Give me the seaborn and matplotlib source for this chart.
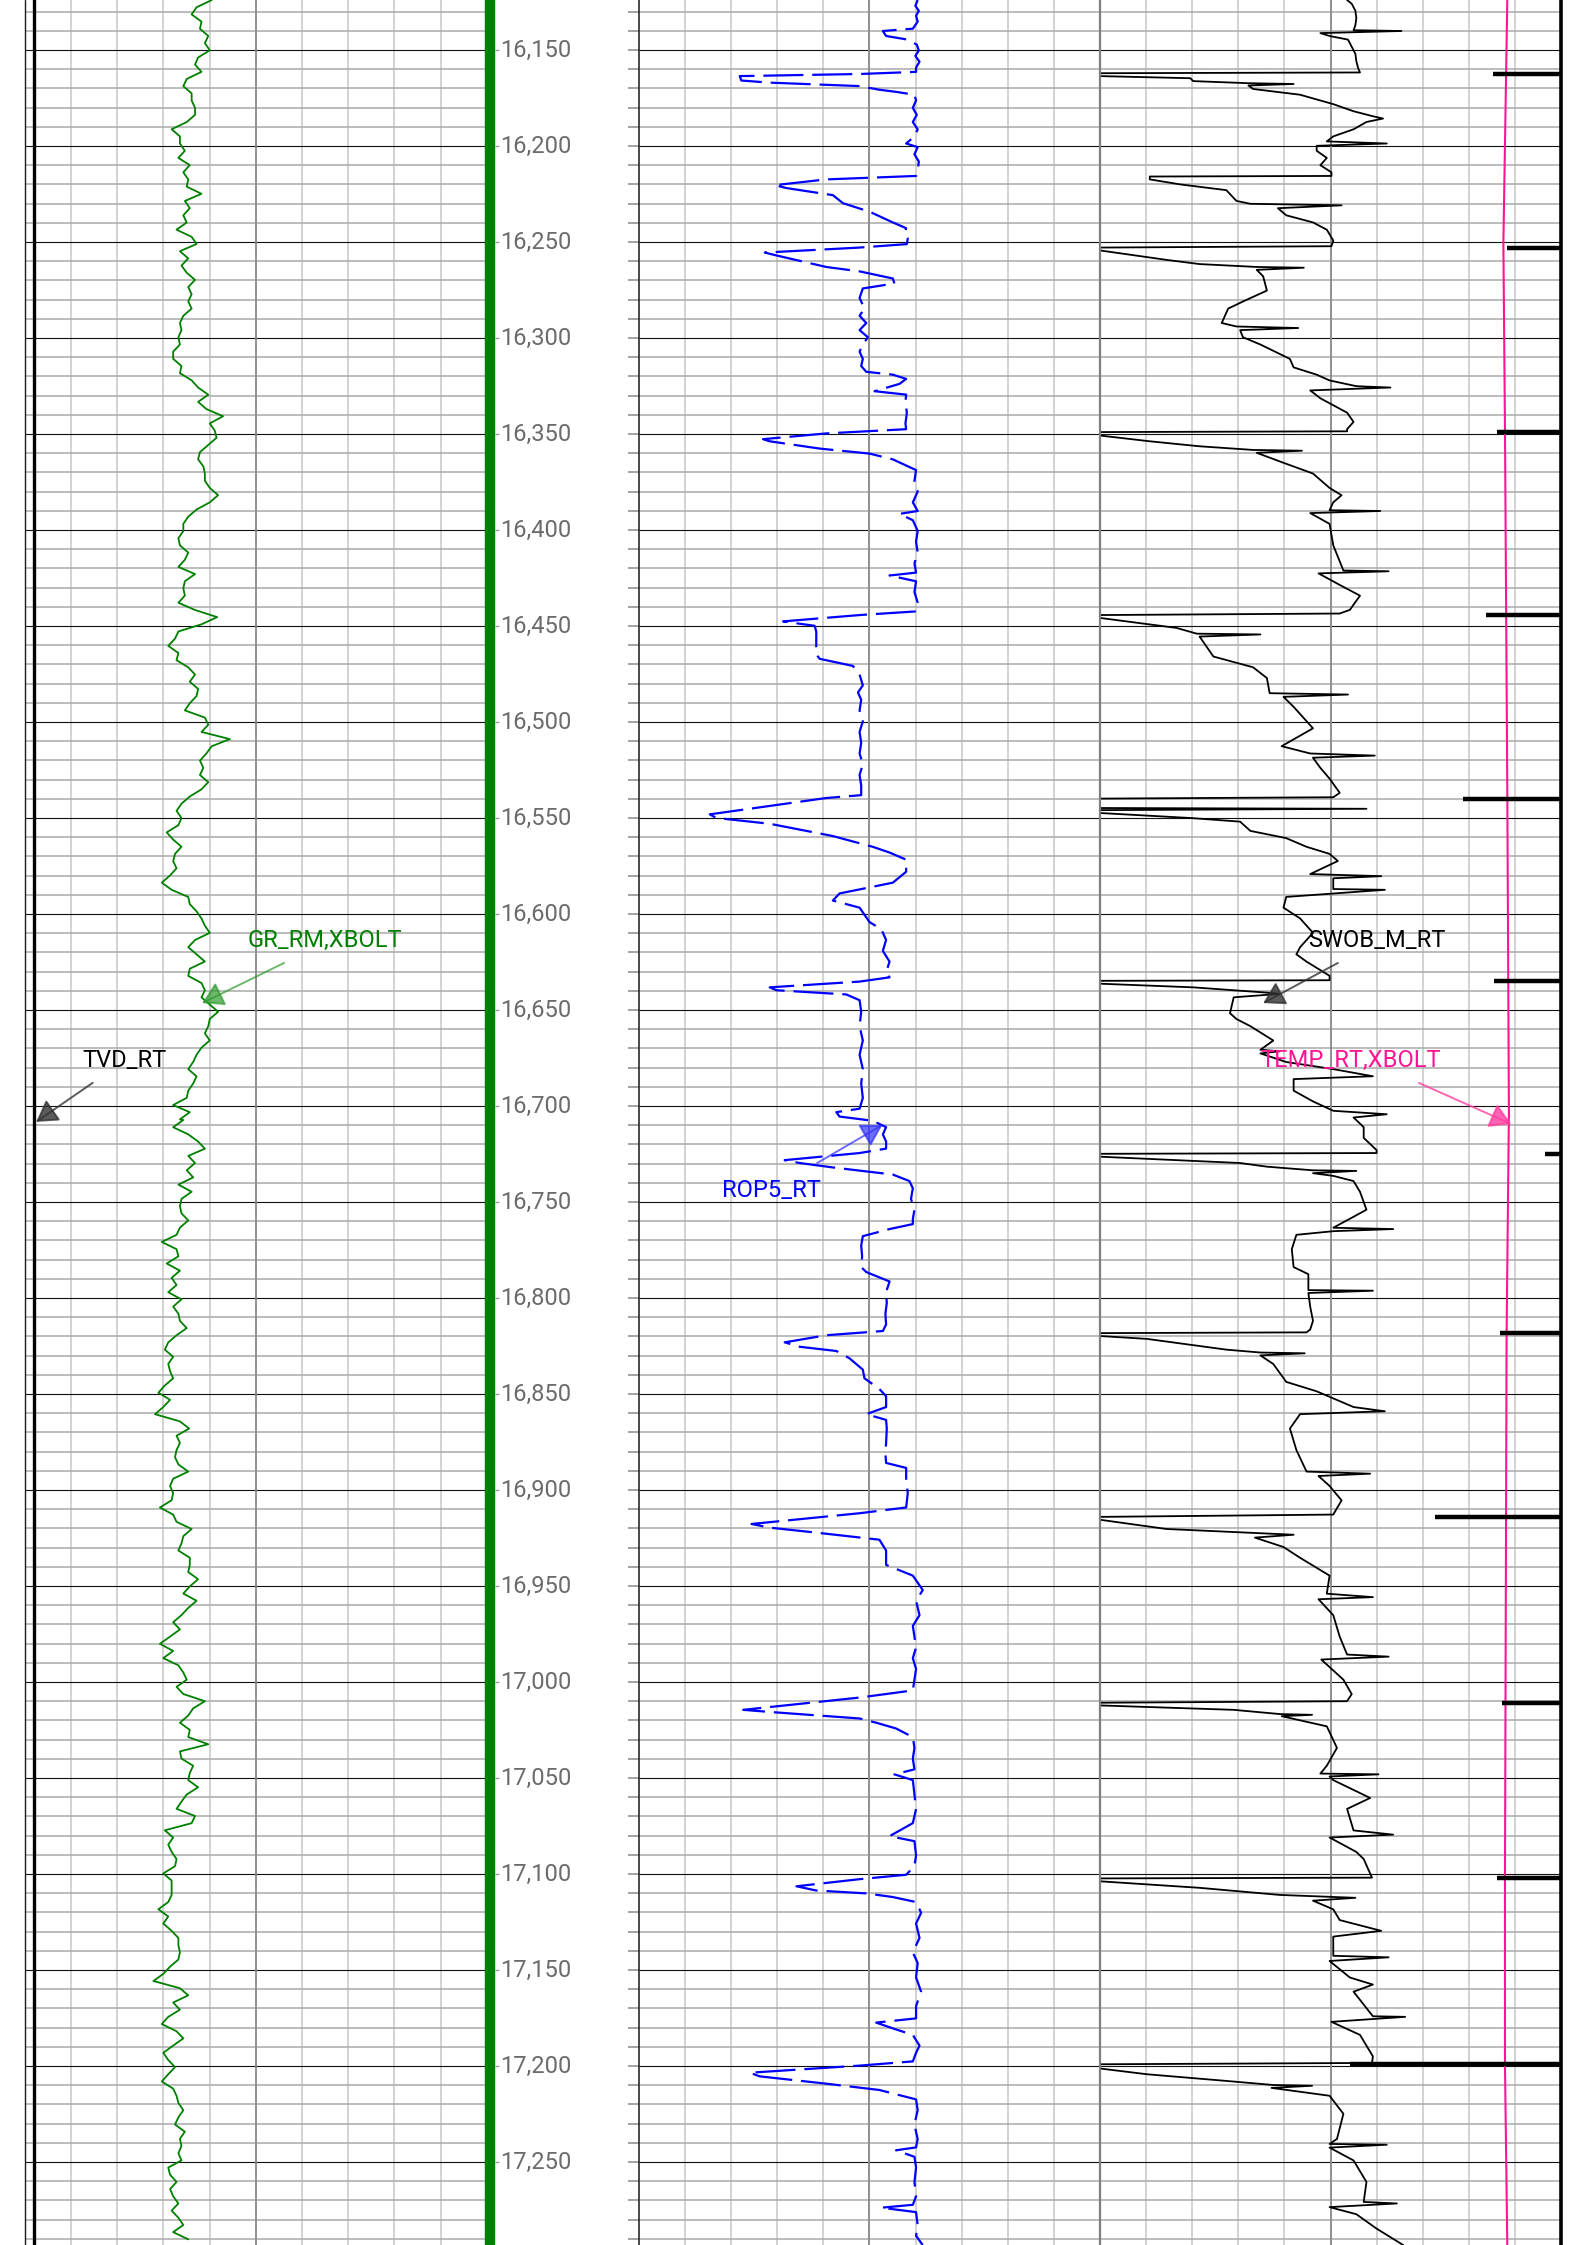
# well log section: GR / depth / ROP / SWOB+TEMP tracks
import numpy as np
import matplotlib.pyplot as plt
import seaborn as sns

sns.set_style("white")
plt.rcParams['font.family'] = ['Roboto', 'DejaVu Sans']

TOP_MD, BASE_MD = 16123.96, 17293.23
depth_labels = list(range(16150, 17300, 50))
minor_depths = [d for d in range(16130, 17300, 10) if d % 50]

# gamma ray (API), read every ~3.74 ft
gr_upper = [
    60.7, 55.8, 54.2, 57.4, 56.9, 59.6, 58.5, 60.1, 56.3, 55.3,
    57.4, 52.6, 51.5, 54.2, 54.2, 55.3, 55.3, 52.6, 47.7, 50.4,
    50.4, 52.0, 49.9, 53.6, 51.5, 53.1, 52.6, 57.4, 52.0, 53.6,
    51.5, 52.6, 49.3, 54.2, 55.8, 50.4, 53.1, 50.9, 52.6, 55.3,
    53.1, 54.2, 53.1, 54.2, 51.5, 50.4, 50.9, 49.9, 50.4, 48.2,
    48.2, 50.9, 50.4, 54.2, 56.3, 59.6, 56.3, 59.0, 64.4, 60.1,
    61.7, 62.3, 59.6, 56.9, 56.3, 58.0, 58.5, 58.5, 60.1, 62.8,
    60.1, 55.8, 53.1, 51.5, 51.5, 49.9, 50.4, 53.1, 52.0, 49.9,
    55.3, 52.0, 51.5, 52.0, 49.9, 55.3, 62.5, 57.4, 49.9, 48.8,
    46.6, 49.9, 49.3, 53.1, 55.3, 53.6, 56.3, 55.8, 53.6, 52.0,
    58.5, 59.6, 57.4, 66.6, 60.7, 59.0, 56.9, 58.0, 56.9, 59.6,
    57.4, 53.6, 50.9, 49.3, 50.9, 49.9, 46.1, 48.2, 50.9, 48.8,
    48.2, 49.3, 47.2, 44.5, 47.7, 53.1, 53.6, 55.8, 57.4, 58.5,
    60.1, 55.3, 53.1, 55.8, 58.5, 53.6, 53.1, 57.4, 58.5, 57.4,
    60.1, 62.8, 60.1, 59.6, 58.5, 60.1, 57.4, 55.8, 54.7, 53.1,
    55.8, 54.7, 53.1, 52.6, 48.2, 53.6, 50.4]
gr_lower = [
    51.5, 48.2, 53.1, 56.3, 58.5, 53.1, 55.3, 52.6, 54.7, 49.9,
    54.2, 50.9, 50.4, 50.9, 53.1, 50.4, 49.3, 44.5, 49.3, 49.9,
    46.1, 50.4, 47.7, 49.3, 46.6, 50.9, 48.2, 49.9, 50.4, 52.6,
    49.3, 46.6, 45.5, 48.2, 46.6, 47.2, 48.2, 45.5, 43.4, 47.2,
    45.0, 42.3, 50.4, 53.4, 49.3, 50.4, 49.3, 48.8, 49.9, 53.1,
    48.2, 47.2, 48.2, 47.7, 43.9, 48.2, 49.3, 54.2, 51.5, 50.9,
    49.9, 53.6, 53.6, 53.1, 56.3, 53.6, 51.5, 55.8, 53.1, 50.9,
    48.2, 50.4, 47.2, 43.9, 48.2, 45.0, 49.9, 51.5, 52.6, 49.3,
    51.5, 58.5, 54.7, 53.1, 50.4, 53.6, 53.1, 59.6, 50.4, 50.9,
    54.7, 53.6, 53.1, 56.3, 52.6, 50.9, 49.3, 55.3, 54.2, 45.5,
    48.2, 46.6, 47.7, 49.3, 48.8, 45.0, 47.7, 47.7, 47.7, 46.6,
    43.4, 46.6, 45.0, 47.7, 49.9, 49.9, 50.4, 49.9, 47.2, 45.0,
    41.8, 50.4, 53.1, 48.2, 50.4, 46.6, 44.5, 49.3, 51.5, 48.2,
    45.0, 46.6, 48.8, 46.6, 44.5, 48.2, 49.3, 49.9, 51.5, 49.9,
    48.8, 52.0, 50.4, 50.9, 49.9, 50.9, 46.6, 47.2, 49.3, 47.2,
    48.2, 49.9, 47.7, 49.9, 51.5, 48.2, 53.1]
gr_depth = np.concatenate([16124.0 + 3.737 * np.arange(len(gr_upper)),
                           16707.3 + 3.737 * np.arange(len(gr_lower))])
gr_value = gr_upper + gr_lower

tvd_depth = [16124.0, 17293.2]
tvd_value = [9010.1, 9010.1]

# ROP5_RT (ft/hr) as (depth, value)
rop_points = [
    (16124.0, 120.9), (16127.0, 119.9), (16129.6, 121.4), (16132.2, 120.2), (16135.2, 120.9),
    (16138.9, 118.8), (16140.1, 105.8), (16142.7, 107.2), (16144.6, 116.6), (16147.2, 120.5),
    (16150.2, 121.4), (16153.1, 119.9), (16156.1, 121.7), (16159.1, 120.2), (16161.4, 120.2),
    (16162.5, 95.7), (16163.6, 43.7), (16165.9, 44.4), (16167.0, 56.7), (16168.8, 95.7),
    (16170.7, 104.3), (16171.8, 111.5), (16173.3, 119.5), (16176.3, 120.2), (16180.1, 118.8),
    (16183.8, 120.5), (16187.5, 118.8), (16191.3, 120.9), (16195.0, 119.5), (16198.7, 115.9),
    (16200.6, 120.9), (16204.3, 119.5), (16208.1, 121.4), (16212.9, 120.9), (16215.6, 120.2),
    (16217.4, 81.2), (16220.4, 58.9), (16221.9, 63.9), (16225.6, 84.1), (16229.8, 88.5),
    (16234.2, 100.0), (16239.8, 110.1), (16242.8, 115.9), (16245.5, 115.2), (16248.1, 116.6),
    (16251.1, 116.2), (16252.9, 95.7), (16255.5, 54.6), (16257.0, 59.6), (16263.0, 81.2),
    (16265.3, 95.7), (16269.0, 110.1), (16271.6, 110.8), (16274.2, 97.1), (16279.1, 95.7),
    (16284.7, 97.8), (16288.4, 95.7), (16292.2, 98.6), (16295.9, 95.7), (16299.6, 99.3),
    (16303.4, 97.1), (16307.1, 95.7), (16310.9, 97.1), (16314.6, 96.4), (16317.6, 98.6),
    (16319.1, 110.1), (16321.3, 115.9), (16323.9, 113.0), (16327.7, 102.2), (16329.5, 115.9),
    (16333.3, 115.6), (16338.9, 116.2), (16344.5, 115.6), (16347.5, 115.9), (16349.7, 81.2),
    (16352.7, 53.8), (16353.8, 56.7), (16357.6, 78.4), (16360.2, 100.0), (16363.2, 110.1),
    (16368.8, 120.2), (16374.4, 119.5), (16380.0, 120.9), (16385.6, 118.8), (16390.1, 120.9),
    (16391.6, 113.0), (16394.9, 118.8), (16400.5, 120.9), (16406.1, 120.2), (16411.7, 120.9),
    (16417.4, 119.5), (16422.2, 120.2), (16423.7, 108.7), (16426.7, 120.2), (16432.3, 119.5),
    (16437.9, 120.9), (16442.4, 120.2), (16444.3, 95.7), (16447.6, 62.5), (16449.9, 76.2),
    (16452.9, 76.9), (16464.8, 76.9), (16467.1, 78.4), (16470.8, 92.8), (16475.3, 95.7),
    (16480.9, 97.1), (16484.6, 95.0), (16488.4, 96.4), (16494.0, 95.7), (16499.6, 97.1),
    (16505.2, 95.7), (16510.8, 96.4), (16516.4, 95.7), (16522.0, 97.1), (16527.6, 95.7),
    (16533.2, 96.4), (16538.1, 96.4), (16539.6, 81.2), (16548.1, 30.7), (16550.0, 33.6),
    (16553.0, 56.7), (16559.4, 84.1), (16565.0, 101.4), (16568.0, 108.7), (16571.7, 115.9),
    (16578.0, 115.9), (16583.7, 110.1), (16589.3, 87.0), (16593.0, 84.1), (16596.7, 95.7),
    (16604.2, 100.0), (16607.9, 105.1), (16613.5, 107.2), (16619.2, 105.8), (16624.8, 108.7),
    (16630.4, 107.2), (16633.0, 108.7), (16635.2, 95.7), (16638.2, 56.7), (16639.7, 59.6),
    (16641.9, 89.9), (16644.9, 95.7), (16650.9, 96.4), (16658.4, 95.7), (16665.9, 97.1),
    (16673.3, 95.7), (16680.8, 97.1), (16688.3, 96.4), (16695.8, 97.1), (16701.4, 95.7),
    (16703.2, 85.6), (16705.5, 87.0), (16707.7, 101.4), (16711.0, 107.2), (16714.8, 105.8),
    (16718.5, 107.2), (16722.2, 107.2), (16724.5, 95.7), (16728.2, 63.2), (16729.7, 69.7),
    (16732.0, 84.1), (16735.7, 110.1), (16739.1, 117.3), (16742.8, 118.8), (16748.4, 118.0),
    (16754.0, 119.5), (16758.9, 118.8), (16761.5, 118.8), (16764.1, 108.7), (16767.8, 97.1),
    (16772.7, 96.4), (16778.3, 96.8), (16783.9, 96.4), (16786.5, 98.6), (16791.4, 108.7),
    (16797.0, 107.2), (16802.6, 107.5), (16808.2, 106.9), (16813.8, 107.2), (16817.2, 105.8),
    (16819.4, 81.2), (16823.1, 63.2), (16825.4, 69.7), (16827.6, 85.6), (16831.4, 91.3),
    (16837.3, 97.1), (16841.8, 97.8), (16847.4, 104.3), (16851.2, 107.2), (16856.8, 107.2),
    (16860.5, 98.6), (16863.5, 107.2), (16868.0, 107.5), (16875.5, 107.2), (16881.1, 106.9),
    (16885.9, 107.2), (16888.5, 115.9), (16894.2, 115.9), (16901.6, 116.6), (16909.1, 115.9),
    (16912.1, 95.7), (16917.7, 48.8), (16919.6, 56.7), (16922.2, 76.9), (16925.9, 104.3),
    (16931.5, 107.2), (16939.0, 107.2), (16944.6, 118.8), (16952.1, 123.1), (16957.7, 120.2),
    (16965.2, 121.7), (16970.8, 118.8), (16976.4, 119.5), (16982.0, 120.2), (16987.6, 118.8),
    (16993.2, 120.2), (16998.8, 119.5), (17004.4, 118.8), (17008.1, 95.7), (17014.5, 45.2),
    (17015.6, 56.7), (17019.0, 95.7), (17021.2, 102.9), (17024.2, 111.5), (17028.7, 118.8),
    (17034.3, 119.5), (17039.9, 118.8), (17045.5, 119.5), (17048.1, 110.8), (17051.1, 118.8),
    (17058.6, 119.5), (17066.1, 120.2), (17073.5, 118.8), (17080.3, 108.7), (17082.9, 119.5),
    (17090.3, 120.2), (17095.9, 119.5), (17100.4, 115.9), (17102.7, 95.7), (17106.4, 68.3),
    (17108.6, 76.9), (17110.1, 98.6), (17112.0, 110.1), (17114.6, 120.2), (17120.2, 122.4),
    (17125.8, 120.2), (17133.3, 121.7), (17140.8, 118.8), (17146.4, 120.9), (17153.9, 120.2),
    (17161.3, 122.4), (17168.8, 120.2), (17175.2, 120.2), (17177.4, 102.9), (17180.4, 110.1),
    (17183.8, 118.8), (17189.4, 121.7), (17193.1, 120.2), (17197.6, 118.8), (17199.8, 95.7),
    (17203.5, 48.1), (17205.4, 52.4), (17209.2, 81.2), (17212.5, 104.3), (17217.4, 120.2),
    (17223.0, 120.9), (17230.5, 119.5), (17238.0, 120.9), (17242.4, 120.2), (17243.9, 111.5),
    (17247.3, 119.5), (17252.9, 120.2), (17260.4, 119.5), (17267.8, 120.2), (17272.3, 118.8),
    (17273.8, 105.1), (17276.1, 120.2), (17282.8, 120.9), (17288.4, 120.2), (17293.3, 123.1)]

# SWOB_M_RT (klbs) as (depth, value)
swob_points = [
    (16124.0, 26.8), (16125.9, 27.3), (16129.6, 27.7), (16133.3, 27.8), (16137.1, 27.7),
    (16139.7, 27.5), (16140.1, 32.7), (16141.2, 23.9), (16142.7, 24.9), (16144.6, 26.9),
    (16148.3, 27.3), (16152.0, 27.7), (16155.8, 27.8), (16159.5, 28.0), (16161.7, 28.2),
    (16162.1, 0.0), (16163.6, 0.0), (16164.7, 9.8), (16166.2, 10.1), (16167.3, 16.1),
    (16167.7, 21.0), (16168.5, 16.1), (16170.3, 16.6), (16173.3, 21.7), (16178.2, 25.3),
    (16181.9, 27.5), (16184.5, 29.6), (16185.7, 30.7), (16187.5, 28.9), (16191.3, 27.5),
    (16195.0, 25.3), (16197.6, 24.6), (16198.7, 31.1), (16199.9, 23.5), (16202.5, 23.5),
    (16206.2, 24.6), (16210.0, 23.9), (16213.7, 25.1), (16215.6, 25.1), (16215.9, 5.4),
    (16217.4, 5.4), (16220.0, 8.7), (16223.0, 13.7), (16228.6, 14.8), (16230.1, 16.3),
    (16230.9, 26.2), (16232.4, 19.3), (16236.1, 20.2), (16239.8, 23.1), (16243.6, 24.6),
    (16249.2, 25.3), (16252.2, 25.1), (16252.9, 0.0), (16254.4, 0.0), (16259.3, 7.2),
    (16261.5, 10.8), (16263.0, 17.0), (16263.4, 22.1), (16264.5, 17.0), (16267.9, 17.7),
    (16275.3, 18.1), (16281.0, 15.5), (16284.7, 13.9), (16292.2, 13.2), (16294.0, 14.8),
    (16294.8, 21.5), (16295.9, 15.2), (16299.6, 15.5), (16303.4, 17.4), (16310.9, 20.6),
    (16315.3, 21.0), (16319.1, 23.5), (16322.1, 24.9), (16325.1, 27.8), (16325.8, 31.5),
    (16327.3, 22.8), (16331.4, 23.9), (16338.9, 26.8), (16343.7, 27.5), (16347.5, 26.8),
    (16348.6, 26.8), (16349.0, 0.0), (16350.8, 0.0), (16353.8, 5.4), (16356.4, 10.8),
    (16358.3, 16.6), (16358.7, 21.9), (16359.8, 17.0), (16365.0, 19.9), (16370.6, 23.1),
    (16378.1, 24.9), (16381.9, 26.2), (16385.6, 25.3), (16389.7, 24.9), (16390.1, 30.4),
    (16391.2, 22.8), (16396.8, 24.9), (16408.0, 25.3), (16421.1, 26.4), (16421.5, 31.3),
    (16422.6, 23.7), (16428.6, 26.0), (16434.2, 28.2), (16441.6, 27.1), (16443.5, 26.0),
    (16444.3, 0.0), (16445.8, 0.0), (16451.0, 8.3), (16454.0, 10.5), (16454.4, 17.4),
    (16455.5, 10.8), (16465.9, 12.3), (16471.5, 16.6), (16477.1, 18.1), (16485.0, 18.4),
    (16485.7, 26.9), (16486.9, 19.9), (16492.1, 21.0), (16503.3, 23.1), (16512.6, 19.7),
    (16516.4, 22.8), (16517.5, 29.8), (16518.6, 23.1), (16523.9, 23.9), (16529.5, 24.9),
    (16536.9, 26.0), (16539.2, 25.3), (16539.9, 0.0), (16544.8, 0.0), (16545.2, 28.9),
    (16545.9, 0.0), (16547.4, 0.0), (16550.0, 9.8), (16551.9, 15.2), (16556.7, 16.3),
    (16560.5, 20.2), (16565.0, 22.4), (16568.7, 24.9), (16572.4, 25.8), (16579.2, 22.8),
    (16580.3, 30.5), (16581.4, 25.3), (16587.0, 25.3), (16587.4, 30.9), (16591.1, 20.2),
    (16596.7, 19.9), (16602.3, 21.7), (16609.8, 23.1), (16617.3, 21.7), (16621.0, 21.3),
    (16624.8, 22.4), (16632.2, 24.9), (16634.5, 24.9), (16634.8, 0.0), (16636.3, 0.0),
    (16638.2, 10.1), (16639.7, 14.5), (16641.2, 18.8), (16641.6, 19.5), (16643.4, 14.5),
    (16651.7, 14.1), (16654.7, 14.8), (16658.4, 16.3), (16665.9, 18.8), (16670.7, 17.4),
    (16671.5, 19.5), (16672.6, 17.4), (16677.1, 20.2), (16680.8, 25.3), (16684.5, 29.6),
    (16686.0, 21.0), (16692.0, 21.0), (16697.6, 23.1), (16702.5, 25.3), (16704.3, 31.1),
    (16706.0, 27.5), (16711.0, 28.6), (16716.6, 28.6), (16723.0, 30.0), (16724.5, 30.0),
    (16724.9, 0.0), (16726.4, 0.0), (16729.7, 15.2), (16731.6, 18.1), (16733.5, 23.1),
    (16733.8, 27.8), (16735.0, 23.1), (16736.4, 25.3), (16739.1, 27.5), (16744.7, 28.2),
    (16754.0, 28.9), (16757.7, 27.5), (16763.4, 25.3), (16764.1, 31.8), (16765.2, 25.3),
    (16767.1, 21.3), (16774.6, 20.8), (16783.9, 21.0), (16787.6, 22.6), (16795.9, 22.6),
    (16796.2, 29.6), (16797.4, 22.6), (16804.5, 22.8), (16811.9, 23.1), (16816.4, 22.8),
    (16817.9, 22.4), (16818.3, 0.0), (16819.8, 0.0), (16821.3, 5.1), (16826.9, 13.7),
    (16828.4, 17.4), (16828.8, 22.2), (16829.9, 17.4), (16834.4, 18.8), (16843.7, 20.2),
    (16848.6, 23.5), (16856.8, 27.5), (16859.0, 30.9), (16860.5, 21.7), (16868.0, 20.6),
    (16879.2, 21.3), (16890.4, 22.4), (16891.5, 29.3), (16892.7, 23.7), (16897.9, 24.9),
    (16905.4, 26.2), (16912.8, 25.3), (16914.0, 0.0), (16915.5, 0.0), (16920.3, 7.2),
    (16923.3, 21.0), (16924.8, 16.8), (16929.7, 19.9), (16935.3, 21.7), (16944.6, 24.9),
    (16954.0, 24.6), (16955.8, 29.6), (16956.9, 23.7), (16965.2, 25.3), (16976.4, 26.0),
    (16985.7, 26.8), (16986.8, 31.3), (16988.3, 24.0), (16998.8, 26.4), (17006.3, 27.3),
    (17010.0, 26.8), (17010.8, 0.0), (17012.2, 0.0), (17014.5, 14.5), (17016.7, 19.5),
    (17017.1, 23.0), (17017.8, 19.7), (17023.1, 24.6), (17034.3, 25.7), (17043.6, 24.6),
    (17047.7, 23.9), (17048.1, 30.2), (17049.2, 24.9), (17051.1, 25.3), (17060.4, 29.3),
    (17066.1, 26.8), (17077.3, 27.5), (17079.5, 31.8), (17081.0, 24.9), (17088.5, 27.8),
    (17092.2, 28.6), (17099.7, 29.3), (17101.9, 29.5), (17102.3, 0.0), (17103.8, 0.0),
    (17107.2, 10.8), (17110.9, 19.5), (17112.4, 27.7), (17113.9, 23.1), (17118.4, 25.3),
    (17124.0, 26.0), (17129.6, 30.5), (17132.6, 25.3), (17142.6, 25.3), (17143.4, 31.3),
    (17145.3, 24.9), (17153.9, 27.1), (17157.6, 29.6), (17161.3, 27.5), (17174.1, 29.6),
    (17174.4, 33.1), (17177.0, 25.1), (17183.8, 28.2), (17195.0, 29.6), (17198.4, 29.5),
    (17199.1, 0.0), (17201.3, 0.0), (17204.3, 5.1), (17208.1, 14.5), (17209.9, 18.8),
    (17210.3, 23.0), (17211.4, 18.6), (17215.5, 24.9), (17224.9, 26.4), (17238.0, 25.7),
    (17240.6, 24.9), (17241.0, 31.1), (17242.5, 24.9), (17249.2, 27.5), (17260.4, 28.9),
    (17270.8, 28.6), (17271.6, 32.2), (17273.5, 24.9), (17277.2, 27.8), (17284.7, 30.0),
    (17293.3, 32.9)]

# TEMP_RT,XBOLT (degF)
temp_depth = [16124.0, 16251.0, 16348.0, 16535.0, 16703.0, 16819.0, 17100.0, 17200.0, 17293.2]
temp_value = [226.7, 225.0, 225.7, 226.7, 227.4, 226.4, 225.7, 225.7, 226.7]

# hook load dips at connections (rest is off scale to the right)
hkld_depth = [16162.5, 16253.3, 16349.0, 16444.2, 16539.9, 16634.8,
              16724.9, 16818.3, 16914.0, 17010.7, 17102.3, 17199.1]
hkld_value = [425.9, 441.1, 430.2, 418.7, 393.3, 427.7,
              482.6, 433.8, 363.3, 435.6, 430.2, 271.1]

rop_depth, rop_value = map(list, zip(*rop_points))
swob_depth, swob_value = map(list, zip(*swob_points))

W = 1588.0
fig = plt.figure(figsize=(15.88, 22.45), dpi=100)
fig.patch.set_facecolor('white')


def style_track(ax, lo, hi):
    ax.set_xlim(lo, hi)
    ax.set_ylim(BASE_MD, TOP_MD)
    ax.set_xticks(np.linspace(lo, hi, 11)[1:-1])
    ax.set_yticks(depth_labels)
    ax.set_yticks(minor_depths, minor=True)
    ax.grid(True, axis='x', which='major', color='#c6c6c6', lw=1.1)
    ax.grid(True, axis='y', which='minor', color='#aaaaaa', lw=1.1)
    ax.grid(True, axis='y', which='major', color='#111111', lw=0.8)
    ax.tick_params(which='both', length=0, labelbottom=False, labelleft=False)
    ax.axvline((lo + hi) / 2, color='#8c8c8c', lw=1.3, zorder=1)
    for sp in ax.spines.values():
        sp.set_visible(False)


def twin(ax, lo, hi):
    t = ax.twiny()
    t.set_xlim(lo, hi)
    t.tick_params(which='both', length=0, labeltop=False, labelbottom=False)
    t.grid(False)
    for sp in t.spines.values():
        sp.set_visible(False)
    return t


def curve(ax, x, y, **kw):
    sns.lineplot(x=x, y=y, ax=ax, sort=False, orient='y', estimator=None, legend=False, **kw)
    ax.set_xlabel('')
    ax.set_ylabel('')


def tag(ax, base, text, pos, start, tip, color, arrow_color, alpha):
    ax.text(pos[0], pos[1], text, transform=base.transData, color=color,
            fontsize=17, va='baseline', ha='left', zorder=10)
    ax.annotate('', xy=tip, xycoords=base.transData, xytext=start, textcoords=base.transData,
                arrowprops=dict(arrowstyle='-|>,head_length=0.5,head_width=0.3', mutation_scale=26,
                                color=arrow_color, lw=1.4, alpha=alpha, shrinkA=0, shrinkB=0),
                zorder=10)


# track 1: GR + TVD
ax1 = fig.add_axes([24.7 / W, 0, 462 / W, 1])
style_track(ax1, 0, 150)
curve(ax1, gr_value, gr_depth, color='#008000', lw=1.3)
ax1.axvline(0, color='#1a1a1a', lw=1.0, clip_on=False)
ax1.axvline(151, color='#008000', lw=7.5, clip_on=False)
ax1.set_xlim(0, 150)
ax1.set_ylim(BASE_MD, TOP_MD)
ax1t = twin(ax1, 9000, 9500)
curve(ax1t, tvd_value, tvd_depth, color='black', lw=2.4)
ax1t.set_xlim(9000, 9500)
ax1.set_ylim(BASE_MD, TOP_MD)
tag(ax1t, ax1, 'GR_RM,XBOLT', (72.5, 16617.2), (84.2, 16625.5), (57.6, 16646.4),
    '#008000', '#2f9a2f', 0.7)
tag(ax1t, ax1, 'TVD_RT', (18.6, 16679.7), (22.1, 16687.9), (3.7, 16708.3),
    'black', '#333333', 0.8)

# depth column
ax_d = fig.add_axes([486.7 / W, 0, (639 - 486.7) / W, 1])
ax_d.set_xlim(0, 1)
ax_d.set_ylim(BASE_MD, TOP_MD)
ax_d.axis('off')
for d in depth_labels:
    ax_d.text(0.087, d, f"{d:,}", color='#6b6b6b', fontsize=17, va='center', ha='left')
ax_d.hlines(depth_labels, 0.055, 0.08, color='#999999', lw=1.0)
ax_d.hlines(depth_labels + minor_depths, 0.925, 1.0, color='#8a8a8a', lw=1.1)

# track 2: ROP
ax2 = fig.add_axes([639 / W, 0, 461 / W, 1])
style_track(ax2, 0, 200)
curve(ax2, rop_value, rop_depth, color='#0000ff', lw=1.6, linestyle=(0, (18, 4)))
ax2.axvline(0, color='#2a2a2a', lw=1.2, clip_on=False)
ax2.set_xlim(0, 200)
ax2.set_ylim(BASE_MD, TOP_MD)
tag(ax2, ax2, 'ROP5_RT', (35.9, 16747.4), (77.3, 16729.7), (105.6, 16709.9),
    '#0000ff', '#2f2fff', 0.7)

# track 3: SWOB, TEMP, hook load
ax3 = fig.add_axes([1100 / W, 0, 461 / W, 1])
style_track(ax3, 0, 50)
curve(ax3, swob_value, swob_depth, color='black', lw=1.3)
ax3.axvline(0, color='#7f7f7f', lw=1.6, clip_on=False)
ax3.axvline(50, color='black', lw=2.6, clip_on=False)
ax3.set_xlim(0, 50)
ax3t = twin(ax3, 50, 250)
curve(ax3t, temp_value, temp_depth, color='#ff1493', lw=1.5)
ax3t.set_xlim(50, 250)
ax3h = twin(ax3, 0, 500)
ax3h.hlines(hkld_depth, hkld_value, 500, color='black', lw=3.2)
ax3h.set_xlim(0, 500)
ax3.set_ylim(BASE_MD, TOP_MD)
tag(ax3h, ax3, 'SWOB_M_RT', (22.6, 16617.2), (25.8, 16625.5), (17.7, 16646.4),
    'black', '#333333', 0.8)
tag(ax3h, ax3, 'TEMP_RT,XBOLT', (17.4, 16679.7), (34.6, 16688.0), (44.6, 16709.4),
    '#ff1493', '#ff3fa0', 0.8)

fig.savefig('out.png', dpi=100)
